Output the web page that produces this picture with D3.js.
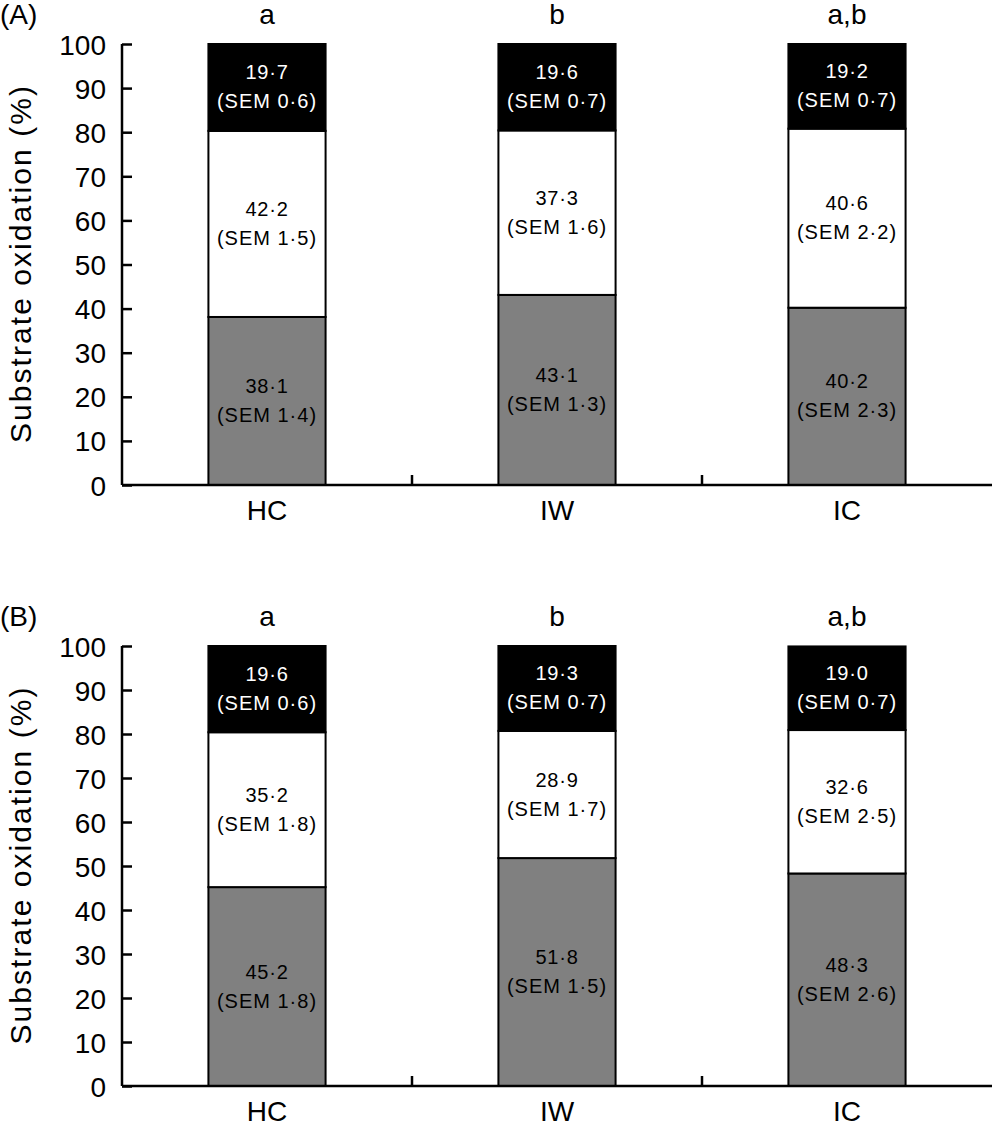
<!DOCTYPE html>
<html>
<head>
<meta charset="utf-8">
<script src="https://cdn.jsdelivr.net/npm/d3@7"></script>
<style>
  body { margin: 0; background: #fff; }
  svg text { font-family: "Liberation Sans", Arial, sans-serif; }
</style>
</head>
<body>
<svg id="chart" width="992" height="1128"></svg>
<script>
// groups and panels
var categories = ["HC", "IW", "IC"];
var panels = ["(A)", "(B)"];
var letters = ["a", "b", "a,b"];
var yTicks = [0, 10, 20, 30, 40, 50, 60, 70, 80, 90, 100];

// stacked % values (bottom grey, middle white, top black)
var carbA = [38.1, 43.1, 40.2];
var carbSemA = [1.4, 1.3, 2.3];
var fatA = [42.2, 37.3, 40.6];
var fatSemA = [1.5, 1.6, 2.2];
var protA = [19.7, 19.6, 19.2];
var protSemA = [0.6, 0.7, 0.7];

var carbB = [45.2, 51.8, 48.3];
var carbSemB = [1.8, 1.5, 2.6];
var fatB = [35.2, 28.9, 32.6];
var fatSemB = [1.8, 1.7, 2.5];
var protB = [19.6, 19.3, 19.0];
var protSemB = [0.6, 0.7, 0.7];

var svg = d3.select("#chart");
var fmt = (v) => v.toFixed(1).replace(".", "\u00b7");

var x = d3.scaleBand()
    .domain(categories)
    .range([122, 992])
    .paddingInner(0.596)
    .paddingOuter(0.298);

function drawPanel(label, top, bottom, series) {
    var y = d3.scaleLinear().domain([0, 100]).range([bottom, top]);
    var g = svg.append("g");

    // segments
    categories.forEach(function (c, i) {
        var base = 0;
        var cx = x(c) + x.bandwidth() / 2;
        series.forEach(function (s) {
            var v = s.values[i];
            g.append("rect")
                .attr("x", x(c))
                .attr("y", y(base + v))
                .attr("width", x.bandwidth())
                .attr("height", y(base) - y(base + v))
                .style("fill", s.color)
                .style("stroke", "#000")
                .style("stroke-width", 2);
            var mid = y(base + v / 2);
            g.append("text")
                .text(fmt(v))
                .attr("x", cx)
                .attr("y", mid - 8)
                .attr("text-anchor", "middle")
                .attr("font-size", 20)
                .attr("letter-spacing", 0.8)
                .style("fill", s.textColor);
            g.append("text")
                .text("(SEM " + fmt(s.sem[i]) + ")")
                .attr("x", cx)
                .attr("y", mid + 21)
                .attr("text-anchor", "middle")
                .attr("font-size", 20)
                .attr("letter-spacing", 1)
                .style("fill", s.textColor);
            base += v;
        });
        g.append("text")
            .text(letters[i])
            .attr("x", cx)
            .attr("y", top - 20)
            .attr("text-anchor", "middle")
            .attr("font-size", 28);
    });

    // y axis
    var ya = g.append("g")
        .attr("transform", "translate(122,0)")
        .call(d3.axisRight(y).tickValues(yTicks).tickSize(10).tickFormat((d) => d));
    ya.select(".domain").attr("d", "M0," + top + "V" + bottom).style("stroke-width", 2.5);
    ya.selectAll(".tick line").style("stroke-width", 2.5);
    ya.selectAll(".tick text")
        .attr("x", -16)
        .attr("dy", "0.36em")
        .attr("text-anchor", "end")
        .attr("font-size", 28)
        .style("font-family", "Liberation Sans, Arial, sans-serif");

    // x axis
    var xa = g.append("g")
        .attr("transform", "translate(0," + bottom + ")");
    xa.append("line")
        .attr("x1", 122).attr("x2", 992)
        .style("stroke", "#000").style("stroke-width", 2.5);
    categories.slice(1).forEach(function (c) {
        var sep = x(c) + x.bandwidth() / 2 - x.step() / 2;
        xa.append("line")
            .attr("x1", sep).attr("x2", sep)
            .attr("y1", 0).attr("y2", -10)
            .style("stroke", "#000").style("stroke-width", 2.5);
    });
    categories.forEach(function (c) {
        xa.append("text")
            .text(c)
            .attr("x", x(c) + x.bandwidth() / 2)
            .attr("y", 35)
            .attr("text-anchor", "middle")
            .attr("font-size", 28);
    });

    // panel label and y title
    g.append("text")
        .text(label)
        .attr("x", 0)
        .attr("y", top - 20)
        .attr("font-size", 28);
    g.append("text")
        .text("Substrate oxidation (%)")
        .attr("transform", "translate(31," + ((top + bottom) / 2) + ") rotate(-90)")
        .attr("text-anchor", "middle")
        .attr("font-size", 30)
        .attr("textLength", 357)
        .attr("lengthAdjust", "spacing");
}

drawPanel(panels[0], 44, 485, [
    { values: carbA, sem: carbSemA, color: "#808080", textColor: "#000" },
    { values: fatA, sem: fatSemA, color: "#fff", textColor: "#000" },
    { values: protA, sem: protSemA, color: "#000", textColor: "#fff" }
]);
drawPanel(panels[1], 646, 1086, [
    { values: carbB, sem: carbSemB, color: "#808080", textColor: "#000" },
    { values: fatB, sem: fatSemB, color: "#fff", textColor: "#000" },
    { values: protB, sem: protSemB, color: "#000", textColor: "#fff" }
]);
</script>
</body>
</html>
